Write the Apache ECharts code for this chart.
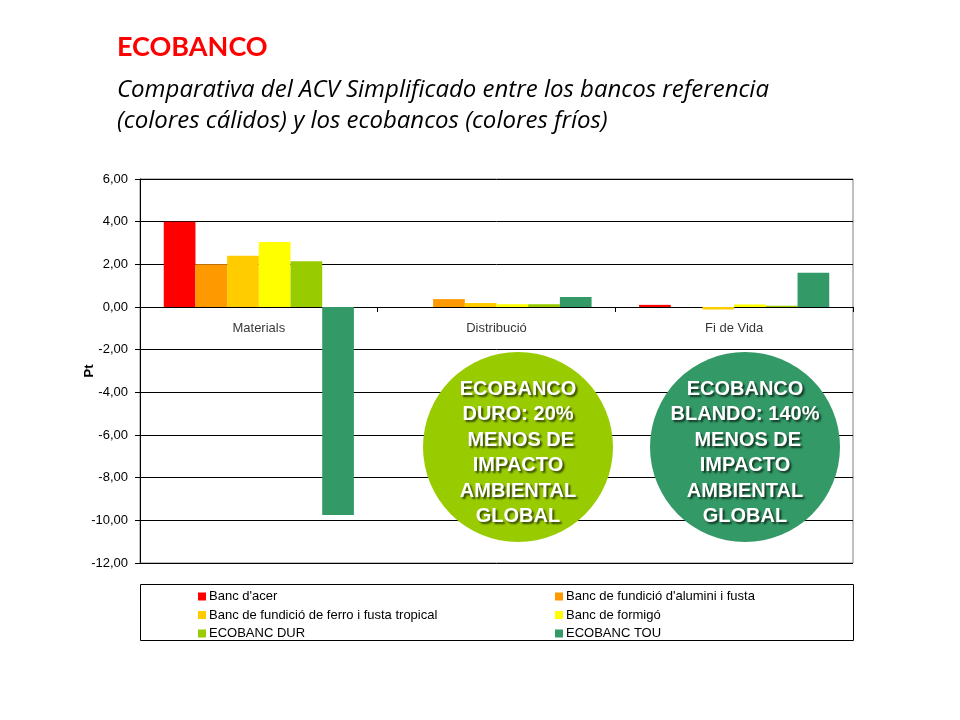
<!DOCTYPE html>
<html>
<head>
<meta charset="utf-8">
<script src="https://cdn.jsdelivr.net/npm/echarts@6/dist/echarts.min.js"></script>
<style>
html,body{margin:0;padding:0;background:#fff;}
#chart{width:960px;height:720px;}
</style>
</head>
<body>
<div id="chart"></div>
<script>
// ---- data ----
var categories = ['Materials', 'Distribució', 'Fi de Vida'];
var seriesNames = [
  "Banc d'acer",
  "Banc de fundició d'alumini i fusta",
  "Banc de fundició de ferro i fusta tropical",
  "Banc de formigó",
  "ECOBANC DUR",
  "ECOBANC TOU"
];
var bancAcer     = [4.00, 0.00, 0.10];
var bancAlumini  = [2.00, 0.37, 0.00];
var bancFerro    = [2.40, 0.19, -0.12];
var bancFormigo  = [3.05, 0.13, 0.12];
var ecobancDur   = [2.15, 0.13, 0.06];
var ecobancTou   = [-9.75, 0.47, 1.60];
var yTicks = { min: -12, max: 6, interval: 2 };

// ---- styles ----
var colors = ['#FF0000', '#FF9900', '#FFCC00', '#FFFF00', '#99CC00', '#339966'];
var allValues = [bancAcer, bancAlumini, bancFerro, bancFormigo, ecobancDur, ecobancTou];

var chart = echarts.init(document.getElementById('chart'), null, { renderer: 'canvas' });

var series = allValues.map(function (vals, i) {
  return {
    name: seriesNames[i],
    type: 'bar',
    data: vals,
    barGap: '0%',
    barCategoryGap: '20%',
    itemStyle: { color: colors[i] },
    emphasis: { disabled: true }
  };
});

// category labels sitting just under the zero line
series.push({
  name: 'catLabels',
  type: 'scatter',
  data: categories.map(function (c) { return [c, 0]; }),
  symbolSize: 0,
  silent: true,
  z: 5,
  label: {
    show: true, position: 'bottom', distance: 15,
    color: '#000', fontSize: 13,
    fontFamily: '"Liberation Sans", Arial, sans-serif',
    formatter: function (p) { return p.value[0]; }
  }
});

var circleText = {
  fill: '#fff',
  font: 'bold 20px "Liberation Sans", Arial, sans-serif',
  lineHeight: 25.5,
  align: 'center',
  verticalAlign: 'middle',
  textShadowColor: 'rgba(0,0,0,0.65)',
  textShadowOffsetX: 2,
  textShadowOffsetY: 2,
  textShadowBlur: 2
};

var legendCommon = {
  orient: 'vertical', top: 589, padding: 0,
  icon: 'rect', itemWidth: 8, itemHeight: 8, itemGap: 3.5,
  selectedMode: false,
  textStyle: { color: '#000', fontSize: 13, lineHeight: 15, padding: [0, 0, 0, -2] }
};

var option = {
  animation: false,
  color: colors,
  textStyle: { fontFamily: '"Liberation Sans", Arial, sans-serif' },
  grid: {
    left: 140, right: 107, top: 179, bottom: 157,
    show: true, borderColor: '#808080', borderWidth: 1
  },
  xAxis: {
    type: 'category',
    data: categories,
    axisLine: { onZero: true, lineStyle: { color: '#000', width: 1 } },
    axisTick: { show: true, length: 5, lineStyle: { color: '#000' } },
    axisLabel: { show: false },
    splitLine: { show: false }
  },
  yAxis: {
    type: 'value',
    min: yTicks.min, max: yTicks.max, interval: yTicks.interval,
    name: 'Pt',
    nameLocation: 'middle',
    nameGap: 44,
    nameMoveOverlap: false,
    nameTextStyle: { color: '#000', fontWeight: 'bold', fontSize: 13 },
    axisLine: { show: true, lineStyle: { color: '#000', width: 1 } },
    axisTick: { show: true, length: 5, inside: false, lineStyle: { color: '#000' } },
    axisLabel: {
      color: '#000', fontSize: 13, margin: 12,
      formatter: function (v) { return v.toFixed(2).replace('.', ','); }
    },
    splitLine: { show: true, lineStyle: { color: '#000', width: 1 } }
  },
  legend: [
    Object.assign({ data: [seriesNames[0], seriesNames[2], seriesNames[4]], left: 198 }, legendCommon),
    Object.assign({ data: [seriesNames[1], seriesNames[3], seriesNames[5]], left: 555 }, legendCommon)
  ],
  graphic: [
    {
      type: 'text', left: 117, top: 34,
      style: { text: 'ECOBANCO', fill: '#FF0000', font: 'bold 27px Lato, "Noto Sans", sans-serif' }
    },
    {
      type: 'text', left: 117, top: 75,
      style: {
        text: 'Comparativa del ACV Simplificado entre los bancos referencia\n(colores cálidos) y los ecobancos (colores fríos)',
        fill: '#000', font: 'italic 24px "Open Sans", "Noto Sans", sans-serif', lineHeight: 31
      }
    },
    {
      type: 'rect', z: 0,
      shape: { x: 140.5, y: 584.5, width: 713, height: 56 },
      style: { fill: 'none', stroke: '#000', lineWidth: 1 }
    },
    {
      type: 'circle', z: 10,
      shape: { cx: 518, cy: 447, r: 95 },
      style: { fill: '#99CC00' }
    },
    {
      type: 'text', z: 11, x: 518, y: 453,
      style: Object.assign({ text: 'ECOBANCO\nDURO: 20%\n MENOS DE\nIMPACTO\nAMBIENTAL\nGLOBAL', x: 0, y: 0 }, circleText)
    },
    {
      type: 'circle', z: 10,
      shape: { cx: 745, cy: 447, r: 95 },
      style: { fill: '#339966' }
    },
    {
      type: 'text', z: 11, x: 745, y: 453,
      style: Object.assign({ text: 'ECOBANCO\nBLANDO: 140%\n MENOS DE\nIMPACTO\nAMBIENTAL\nGLOBAL', x: 0, y: 0 }, circleText)
    }
  ],
  series: series
};

chart.setOption(option);
</script>
</body>
</html>
